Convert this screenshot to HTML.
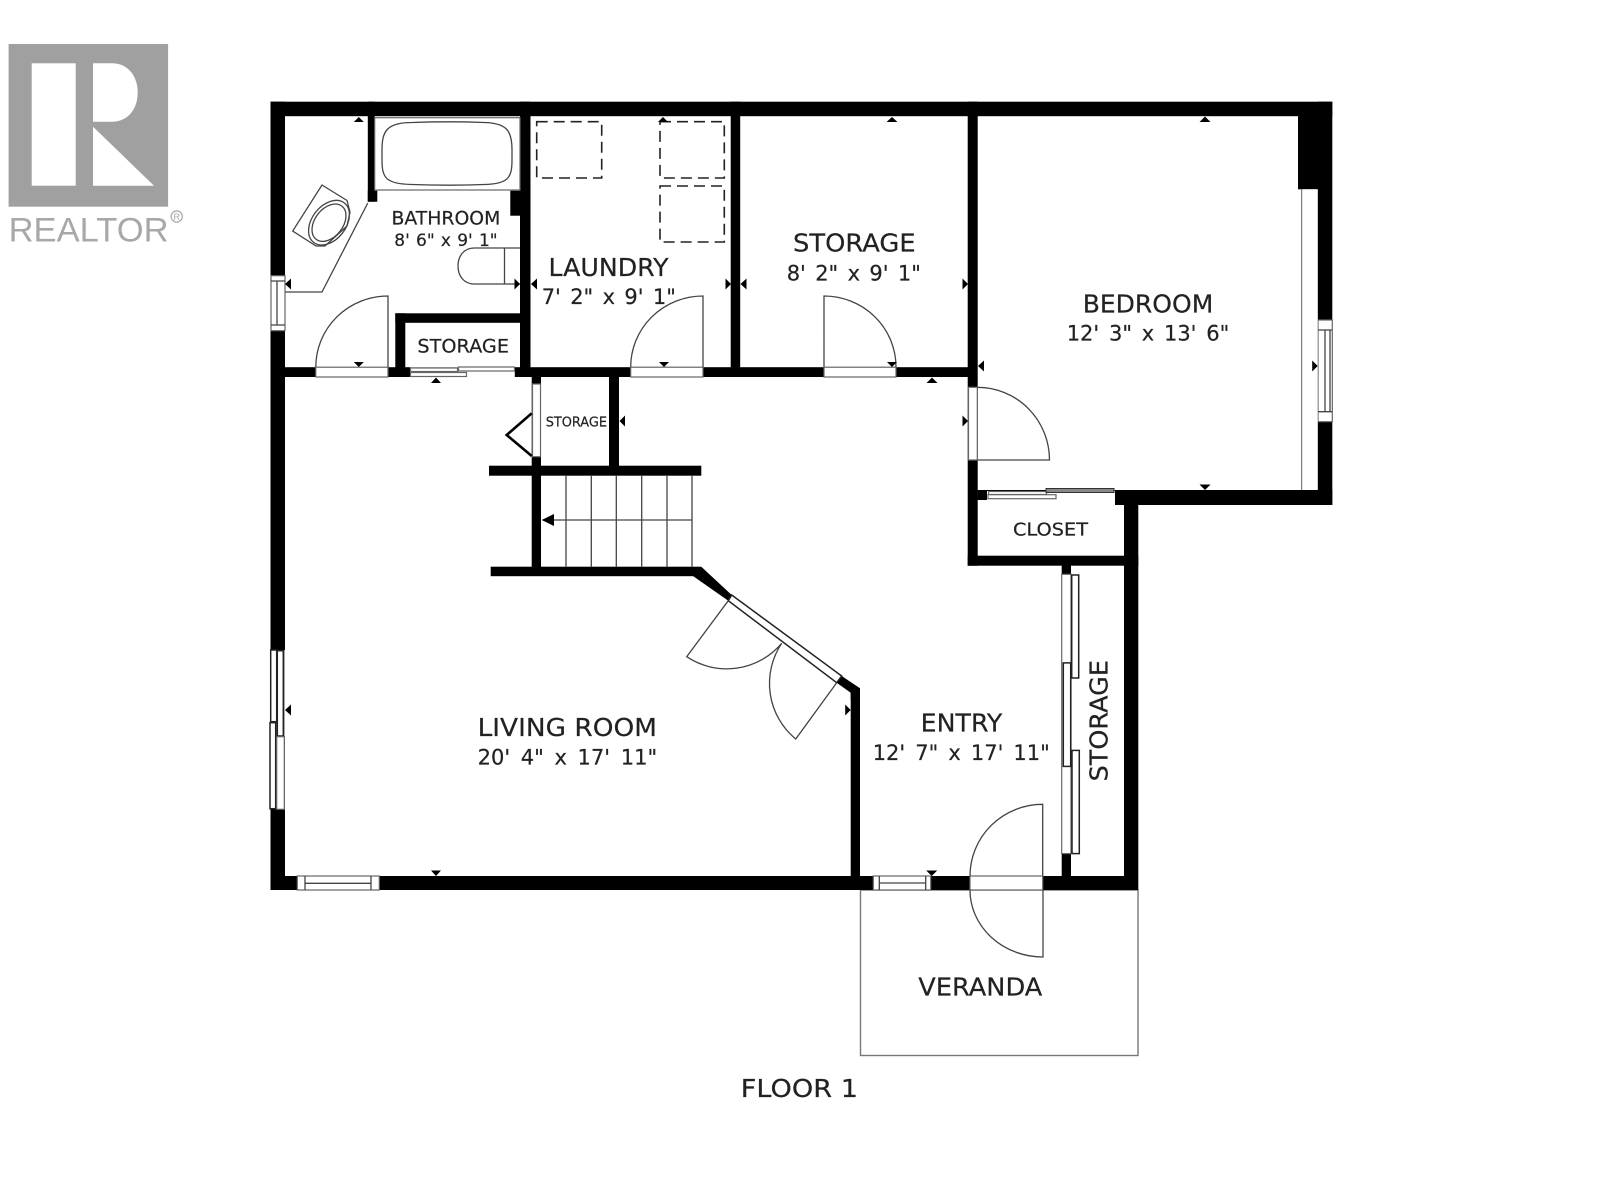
<!DOCTYPE html>
<html><head><meta charset="utf-8"><style>
html,body{margin:0;padding:0;background:#fff;width:1600px;height:1200px;overflow:hidden}
svg{display:block}
text{font-family:"DejaVu Sans","Liberation Sans",sans-serif;fill:#222;stroke:#222;stroke-width:.2}
.t{font-size:25px}.d{font-size:21px}
.l{fill:none;stroke:#444;stroke-width:1.3}
.g{fill:#fff;stroke:#666;stroke-width:1.2}
.k{fill:#fff;stroke:#222;stroke-width:1.5}
.logo{font-family:"Liberation Sans",sans-serif;fill:#a8a8a8;stroke:none}
</style></head><body>
<svg width="1600" height="1200" viewBox="0 0 1600 1200" xmlns="http://www.w3.org/2000/svg">
<!-- logo -->
<rect x="8.6" y="44" width="159.5" height="162.7" fill="#a0a0a0"/>
<rect x="31.7" y="63.3" width="44" height="122.4" fill="#fff"/>
<path d="M93 63.3H112C128 63.3 137.7 76 137.7 92.5C137.7 109 128 121.7 112 121.7H93Z" fill="#fff"/>
<path d="M93 126.7L154 185.7H93Z" fill="#fff"/>
<text class="logo" x="8.6" y="241.7" textLength="160" lengthAdjust="spacingAndGlyphs" style="font-size:34px">REALTOR</text>
<circle cx="176.7" cy="216.5" r="5.6" fill="none" stroke="#a8a8a8" stroke-width="1.2"/>
<text class="logo" x="176.7" y="220" text-anchor="middle" style="font-size:9px">R</text>

<!-- veranda -->
<rect x="860.5" y="890" width="277.5" height="165.5" fill="#fff" stroke="#777" stroke-width="1.4"/>

<!-- walls -->
<g fill="#000">
<rect x="270.5" y="101.7" width="1061.8" height="14.5"/>
<rect x="270.5" y="101.7" width="14.5" height="788.3"/>
<rect x="270.5" y="876" width="867.5" height="14"/>
<rect x="1317.7" y="101.7" width="14.6" height="403.3"/>
<rect x="1298" y="116" width="20" height="73.3"/>
<rect x="1115" y="490" width="217.3" height="15"/>
<rect x="1124" y="490" width="14.3" height="400"/>
<rect x="967.7" y="101.7" width="10" height="464"/>
<rect x="967.7" y="555.7" width="170.6" height="10"/>
<rect x="285" y="367.2" width="692" height="9.8"/>
<rect x="520" y="101.7" width="10.5" height="275"/>
<rect x="730.7" y="101.7" width="9.5" height="275"/>
<rect x="367.8" y="101.7" width="7" height="100"/>
<rect x="367.8" y="190.7" width="9.5" height="11"/>
<rect x="510.3" y="190.7" width="10" height="25"/>
<rect x="395.3" y="313.3" width="10" height="63.5"/>
<rect x="395.3" y="313.3" width="125" height="9.5"/>
<rect x="531.7" y="377" width="9.3" height="199"/>
<rect x="609" y="377" width="10" height="90"/>
<rect x="489" y="465.7" width="212.3" height="10"/>
<rect x="490.7" y="566.7" width="210.5" height="9.5"/>
<rect x="1061.7" y="565" width="9.3" height="311"/>
<rect x="850.7" y="688" width="9.3" height="190"/>
<polygon points="693.3,576.2 701.3,566.7 731.7,595 728.3,600.7"/>
<polygon points="841.7,676 860,688.3 860,700 850.7,700 850.7,692.7 836.7,682.7"/>
</g>

<!-- diagonal double door opening -->
<polygon points="731.7,595 841.7,676 836.7,682.7 728.3,600.7" class="k"/>
<path class="l" d="M728.3 600.7L686.7 656.7A72 72 0 0 0 781.7 643.3"/>
<path class="l" d="M836.7 682.7L795.7 739A72 72 0 0 1 781.7 643.3"/>

<!-- window/door openings -->
<rect x="315.8" y="367.2" width="72.2" height="9.8" class="g"/>
<rect x="630.7" y="367.2" width="72.3" height="9.8" class="g"/>
<rect x="824" y="367.2" width="72" height="9.8" class="g"/>
<rect x="532.5" y="384" width="8" height="72.7" class="g"/>
<rect x="968.5" y="387.3" width="8.8" height="72.7" class="g"/>
<rect x="970" y="876" width="72.7" height="14" class="g"/>

<!-- door leaves -->
<path class="l" d="M388 367V296A72.2 71 0 0 0 315.8 367"/>
<path class="l" d="M703 367V296A72.3 71 0 0 0 630.7 367"/>
<path class="l" d="M824 367V296A72 71 0 0 1 896 367"/>
<path class="l" d="M977.7 387.3A72 72.7 0 0 1 1049.5 460H977.7"/>
<path class="l" d="M1042.7 876V804.3A72.7 71.7 0 0 0 970 876"/>
<path class="l" d="M1043 890V957A73 67 0 0 1 970 890"/>

<!-- left upper window -->
<rect x="271" y="275.7" width="14" height="55" class="g"/>
<path class="l" d="M271 281H285M271 325H285M277 281V325"/>
<!-- left lower sliding windows -->
<rect x="270.7" y="650" width="14" height="159" fill="#fff"/>
<rect x="270.7" y="650" width="6" height="71.7" class="k"/>
<rect x="277.3" y="650.7" width="6" height="85.3" class="k"/>
<rect x="270" y="722.7" width="5.7" height="86" class="k"/>
<rect x="276.7" y="736.7" width="7.6" height="72.6" class="g"/>
<!-- bottom windows -->
<rect x="297.3" y="876" width="82" height="14" class="g"/>
<path class="l" d="M305 876V890M371 876V890M305 883.3H371"/>
<rect x="873.3" y="876" width="57.4" height="14" class="g"/>
<path class="l" d="M879.3 876V890M925.7 876V890M879.3 883H925.7"/>
<!-- bedroom right window -->
<rect x="1318" y="320" width="14.3" height="101.7" class="g"/>
<path class="l" d="M1318 330H1332M1318 411.7H1332M1325 330V411.7M1330 330V411.7"/>
<path d="M1301.7 189.3V490" stroke="#777" stroke-width="1.3" fill="none"/>
<rect x="1302.3" y="189.3" width="15.4" height="300.7" fill="#fff"/>

<!-- sliding door (storage by bath) -->
<rect x="410.5" y="367.2" width="104.3" height="9.8" fill="#fff"/>
<rect x="410.5" y="368" width="47" height="3.5" class="g"/>
<rect x="410.5" y="372.5" width="56" height="4" class="g"/>
<rect x="458.5" y="367" width="56" height="4" class="g"/>
<!-- closet sliding door -->
<rect x="977.7" y="490" width="137.3" height="10" fill="#000"/>
<rect x="987" y="491" width="128" height="9" fill="#fff"/>
<rect x="988.5" y="491.5" width="58" height="3" class="g"/>
<rect x="988" y="494.7" width="68" height="4" class="g"/>
<rect x="1046" y="488.5" width="68" height="4" fill="#888" stroke="#333" stroke-width="1"/>
<rect x="977.7" y="490" width="9.3" height="10"/>
<!-- storage right sliding doors -->
<rect x="1061.7" y="574.3" width="9.3" height="279.3" class="g"/>
<rect x="1071.7" y="575" width="7" height="103" class="k"/>
<rect x="1063.3" y="662.9" width="7.4" height="103.5" class="k"/>
<rect x="1072" y="750.4" width="7.3" height="103.2" class="k"/>

<!-- tub -->
<rect x="374.7" y="117.7" width="145.3" height="72.3" class="g"/>
<path class="l" d="M382 150C382 132 386 122.5 412 122.5C440 121.5 460 121.5 484 122.5C508 123 512 132 512 150V160C512 178 508 184 484 184.5C460 185.5 440 185.5 412 184.5C386 184 382 178 382 160Z"/>
<!-- toilet -->
<path class="l" d="M520 248H474C464 248 458 256 458 266C458 276 464 284 474 284H520M504.5 248V284"/>
<!-- vanity -->
<path class="l" d="M367.8 203L322 292H285"/>
<polygon class="l" points="322,185 347,200.5 350,212 347,226 325,246 316,246 292.7,231"/>
<ellipse cx="329" cy="222.7" rx="25" ry="17" transform="rotate(-52 329 222.7)" class="l"/>
<ellipse cx="329" cy="222.7" rx="21" ry="14" transform="rotate(-52 329 222.7)" class="l"/>

<!-- laundry dashed -->
<g fill="none" stroke="#222" stroke-width="1.6" stroke-dasharray="11 6">
<rect x="536.7" y="121.7" width="65" height="56.3"/>
<rect x="660" y="121.7" width="64.3" height="56.3"/>
<rect x="660" y="186" width="64.3" height="56"/>
</g>

<!-- stairs -->
<g class="l"><path d="M566 475.7V566.7M591.3 475.7V566.7M616.3 475.7V566.7M641.7 475.7V566.7M667 475.7V566.7M692 475.7V566.7M553 520H692"/></g>
<polygon points="541.7,520 554,514 554,526" fill="#000"/>
<!-- fold door -->
<path d="M531.7 413.3L506.7 435L531.7 456" fill="none" stroke="#000" stroke-width="2.6"/>

<!-- triangles -->
<g fill="#000">
<path d="M358.8 117l5 5h-10zM663 117l5 5h-10zM892 117l5.5 5h-11zM1205 116.5l5.5 5.5h-11zM436 377.5l5 5.5h-10zM932 377.5l5.5 5.5h-11z"/>
<path d="M358.8 367l5-5h-10zM664 367l5-5h-10zM892 367l5-5h-10zM1205 490l5.5-5.5h-11zM436 876l5-5.5h-10zM931.7 876l5.5-5.5h-11z"/>
<path d="M285 284l6-5.5v11zM531 284l6-5.5v11zM740.5 284l6-5.5v11zM978 366l6-5.5v11zM619.5 421l5.5-5.5v11zM285 710l6-5.5v11z"/>
<path d="M520 284l-5.5-5.5v11zM731 284l-5.5-5.5v11zM968 284l-5.5-5.5v11zM968 421l-5.5-5.5v11zM1317.7 366l-5.5-5.5v11zM850.7 710l-5.5-5.5v11z"/>
</g>

<!-- labels -->
<text style="font-size:19px" x="391.5" y="224.3" textLength="108.8" lengthAdjust="spacingAndGlyphs">BATHROOM</text>
<text style="font-size:17px;word-spacing:.85px" x="394.3" y="246">8' 6" x 9' 1"</text>
<text style="font-size:19px" x="417.4" y="352.7" textLength="91.6" lengthAdjust="spacingAndGlyphs">STORAGE</text>
<text class="t" x="548.5" y="276" textLength="120" lengthAdjust="spacingAndGlyphs">LAUNDRY</text>
<text class="d" style="word-spacing:2.7px" x="541.7" y="304">7' 2" x 9' 1"</text>
<text class="t" x="793" y="251.7" textLength="122.7" lengthAdjust="spacingAndGlyphs">STORAGE</text>
<text class="d" style="word-spacing:2.7px" x="786.7" y="280.7">8' 2" x 9' 1"</text>
<text class="t" x="1082.7" y="312.7" textLength="130.6" lengthAdjust="spacingAndGlyphs">BEDROOM</text>
<text class="d" style="word-spacing:3.1px" x="1066.7" y="340.7">12' 3" x 13' 6"</text>
<text style="font-size:13px" x="545.7" y="426.7" textLength="61.3" lengthAdjust="spacingAndGlyphs">STORAGE</text>
<text style="font-size:18px" x="1013" y="535.7" textLength="75" lengthAdjust="spacingAndGlyphs">CLOSET</text>
<text class="t" x="477.6" y="736" textLength="179.4" lengthAdjust="spacingAndGlyphs">LIVING ROOM</text>
<text class="d" style="word-spacing:4px" x="477.6" y="764.5">20' 4" x 17' 11"</text>
<text class="t" x="920.7" y="731.4" textLength="81.6" lengthAdjust="spacingAndGlyphs">ENTRY</text>
<text class="d" style="word-spacing:3.4px" x="872.7" y="760">12' 7" x 17' 11"</text>
<text class="t" transform="translate(1107.7 781.4) rotate(-90)" textLength="121.4" lengthAdjust="spacingAndGlyphs">STORAGE</text>
<text class="t" x="918.3" y="995.7" textLength="124" lengthAdjust="spacingAndGlyphs">VERANDA</text>
<text class="t" x="740.8" y="1097" textLength="117.2" lengthAdjust="spacingAndGlyphs">FLOOR 1</text>
</svg>
</body></html>
